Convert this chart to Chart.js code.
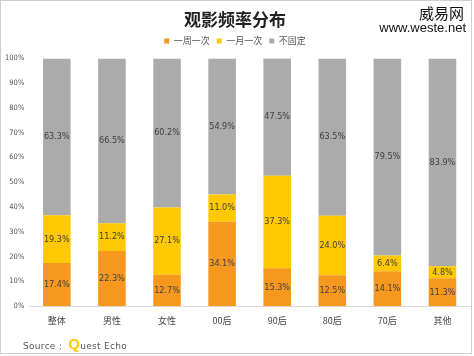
<!DOCTYPE html>
<html><head><meta charset="utf-8">
<script src="https://cdn.jsdelivr.net/npm/chart.js@4/dist/chart.umd.min.js"></script>
<style>
html,body{margin:0;padding:0;background:#fff;}
#wrap{position:relative;width:474px;height:356px;overflow:hidden;}
#frame{position:absolute;left:0;top:0;width:470px;height:352px;border:1px solid #cfcfcf;}
canvas{position:absolute;left:0;top:0;}
#wm1{position:absolute;right:10px;top:2px;font:15px "Noto Sans CJK SC";color:#111;}
#wm2{position:absolute;right:8px;top:20px;font:13px "Liberation Sans";color:#111;}
#src{position:absolute;left:23px;top:335px;font:9px "DejaVu Sans";color:#555;letter-spacing:0.3px;}
#src b{font:bold 15px "Liberation Sans";color:#FFC800;}
</style></head>
<body><div id="wrap"><div id="frame"></div>
<canvas id="c" width="474" height="356"></canvas>
<div id="wm1">威易网</div><div id="wm2">www.weste.net</div>
<div id="src">Source： <b>Q</b>uest Echo</div>
</div>
<script>
const categories = ['整体','男性','女性','00后','90后','80后','70后','其他'];
const weekly  = [17.4, 22.3, 12.7, 34.1, 15.3, 12.5, 14.1, 11.3];
const monthly = [19.3, 11.2, 27.1, 11.0, 37.3, 24.0, 6.4, 4.8];
const irregular = [63.3, 66.5, 60.2, 54.9, 47.5, 63.5, 79.5, 83.9];
const seriesNames = ['一周一次','一月一次','不固定'];
const yTicks = [0,10,20,30,40,50,60,70,80,90,100];

const labelPlugin = {
  id:'segLabels',
  afterDatasetsDraw(chart){
    const ctx = chart.ctx;
    ctx.save();
    ctx.font = '9px "DejaVu Sans Condensed"';
    ctx.fillStyle = '#404040';
    ctx.textAlign = 'center';
    ctx.textBaseline = 'middle';
    chart.data.datasets.forEach((ds,i)=>{
      chart.getDatasetMeta(i).data.forEach((bar,j)=>{
        const y = (bar.y + bar.base)/2;
        ctx.fillText(ds.data[j].toFixed(1)+'%', bar.x, y);
      });
    });
    ctx.restore();
  }
};

const spacerPlugin = {
  id:'spacer',
  beforeInit(chart){
    const box = {position:'top',weight:0,fullSize:true,width:0,height:3,left:0,top:0,right:0,bottom:0,
      options:{},
      isHorizontal(){return true;},
      update(w){this.width=w;this.height=3;},
      draw(){}};
    Chart.layouts.addBox(chart, box);
  }
};

new Chart(document.getElementById('c'), {
  type:'bar',
  data:{
    labels:categories,
    datasets:[
      {label:seriesNames[0], data:weekly, backgroundColor:'#F7981E'},
      {label:seriesNames[1], data:monthly, backgroundColor:'#FFC800'},
      {label:seriesNames[2], data:irregular, backgroundColor:'#ABABAB'}
    ]
  },
  options:{
    responsive:false, animation:false,
    layout:{padding:{left:0,right:4,top:9,bottom:21}},
    categoryPercentage:1, barPercentage:0.5,
    plugins:{
      title:{display:true,text:'观影频率分布',font:{family:'"Noto Sans CJK SC"',size:17,weight:'bold'},color:'#222',padding:{top:0,bottom:0}},
      legend:{display:true,labels:{boxWidth:5,boxHeight:5,font:{family:'"Noto Sans CJK SC"',size:9},color:'#555',padding:7},},
      tooltip:{enabled:false}
    },
    scales:{
      x:{stacked:true,grid:{display:false,drawTicks:false},border:{color:'#d9d9d9'},
         ticks:{font:{family:'"Noto Sans CJK SC"',size:9},color:'#444',padding:9}},
      y:{stacked:true,min:0,max:100,afterBuildTicks(ax){ax.ticks=yTicks.map(v=>({value:v}));},
         grid:{display:false,drawTicks:false},border:{display:false},
         ticks:{font:{family:'"DejaVu Sans Condensed"',size:7.5},color:'#555',padding:5,callback:v=>v+'%'}}
    }
  },
  plugins:[labelPlugin, spacerPlugin]
});
</script></body></html>
